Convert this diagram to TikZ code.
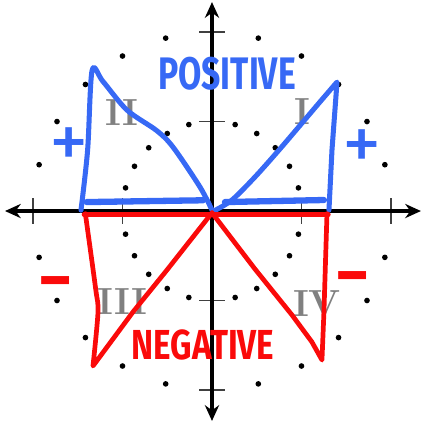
\documentclass[tikz,border=0pt]{standalone}
\usepackage{fontspec}
\setsansfont{Fira Sans}
\usepackage{xcolor}
\usepackage{tikz}
\usetikzlibrary{arrows.meta}
\definecolor{penblue}{RGB}{55,105,245}
\definecolor{penred}{RGB}{250,10,10}
\tikzset{
  axis/.style={line width=1.1pt, {Stealth[length=5pt,width=4.5pt]}-{Stealth[length=5pt,width=4.5pt]}},
  tickmark/.style={line width=0.55pt, black!75},
  gridpt/.style={circle, fill=black, inner sep=0pt, minimum size=1.8pt},
  quadnum/.style={font=\bfseries\fontsize{12}{14}\selectfont, text=black!50, inner sep=0pt},
  bluepen/.style={draw=penblue, line width=1.6pt, line join=round, line cap=round},
  redpen/.style={draw=penred, line width=1.5pt, line join=round, line cap=round},
  handtext/.style={font=\sffamily\bfseries\fontsize{14.5}{16}\selectfont, inner sep=0pt},
  plustext/.style={font=\sffamily\fontsize{25}{27}\selectfont, inner sep=0pt},
  minustext/.style={font=\sffamily\bfseries\fontsize{21}{23}\selectfont, inner sep=0pt},
}

\begin{document}
\begin{tikzpicture}[x=1cm, y=1cm]
    \useasboundingbox (-2.369,-2.380) rectangle (2.369,2.358);
    % dots on the two circles
    \foreach \r in {1,2}
      \foreach \a in {0,90,180,270}
        \foreach \b in {15,30,45,60,75}
          \node[gridpt] (d\r-\a-\b) at ({\a+\b}:\r) {};
    % axes
    \coordinate (O) at (0,0);
    \coordinate (xl) at (-2.313,0);
    \coordinate (xr) at (2.335,0);
    \coordinate (yb) at (0,-2.346);
    \coordinate (yt) at (0,2.335);
    \foreach \t in {-2,-1,1,2} {
      \draw[tickmark] (\t,-0.14) -- (\t,0.14);
      \draw[tickmark] (-0.14,\t) -- (0.14,\t);
    }
    \node[quadnum] (qI)   at (1.006,1.117) {I};
    \node[quadnum] (qII)  at (-1.006,1.095) {II};
    \node[quadnum] (qIII) at (-1.006,-1.017) {III};
    \node[quadnum] (qIV)  at (1.173,-1.034) {IV};
    \draw[axis] (xl) -- (xr);
    \draw[axis] (yb) -- (yt);
    % positive side
    \draw[bluepen] plot[smooth, tension=0.5] coordinates {(-1.464,0.01) (-1.39,0.68) (-1.34,1.57)
      (-1.22,1.45) (-0.95,1.128) (-0.62,0.9) (-0.436,0.715) (-0.134,0.268) (0,0.01)};
    \draw[bluepen, line width=2pt] (-1.40,0.10) -- (-0.10,0.12);
    \draw[bluepen] plot[smooth, tension=0.5] coordinates {(0.02,0.0) (0.223,0.123) (0.48,0.38) (0.749,0.682) (1.006,0.983) (1.196,1.207) (1.397,1.441)}
      -- (1.341,0.684) -- (1.307,0.01);
    \draw[bluepen, line width=2pt] (0.145,0.10) -- (1.251,0.123);
    \node[handtext, text=penblue] (pos) at (0.168,1.531) {\scalebox{0.74}[1]{POSITIVE}};
    \node[plustext, text=penblue] (plusL) at (-1.597,0.70) {+};
    \node[plustext, text=penblue] (plusR) at (1.674,0.68) {+};
    % negative side
    \draw[redpen] (-1.43,-0.04) -- (0,-0.04);
    \draw[redpen] plot[smooth, tension=0.5] coordinates {(-1.415,-0.03) (-1.30,-0.87) (-1.274,-1.13) (-1.330,-1.732)}
      -- (-0.883,-1.128) -- (-0.503,-0.659) -- (0,-0.02);
    \draw[redpen] (0,-0.04) -- (1.30,-0.04);
    \draw[redpen] (0.0,-0.02) -- (0.48,-0.648) -- (0.894,-1.162) -- (1.117,-1.464) -- (1.229,-1.665)
      -- (1.251,-1.128) -- (1.285,-0.03);
    \node[handtext, text=penred] (neg) at (-0.10,-1.497) {\scalebox{0.73}[0.92]{NEGATIVE}};
    \node[minustext, text=penred] (minusL) at (-1.743,-0.872) {−};
    \node[minustext, text=penred] (minusR) at (1.575,-0.816) {−};
\end{tikzpicture}
\end{document}
